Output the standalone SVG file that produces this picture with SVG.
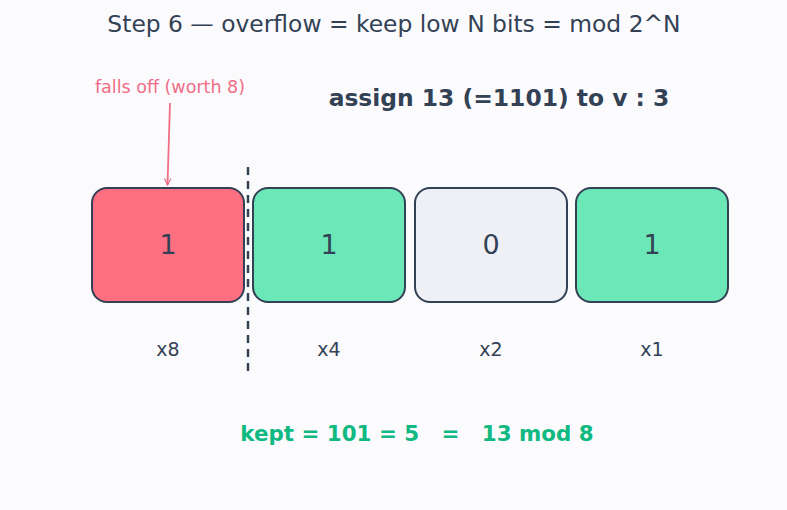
<svg xmlns="http://www.w3.org/2000/svg" width="787" height="510" viewBox="0 0 787 510">
<defs>
<style>
text{font-family:"DejaVu Sans","Liberation Sans",sans-serif;}
.box{stroke:#334155;stroke-width:2;}
.digit{font-size:27px;fill:#334155;text-anchor:middle;}
.lbl{font-size:19px;fill:#334155;text-anchor:middle;}
</style>
<marker id="ah" viewBox="0 0 10 10" refX="9" refY="5" markerWidth="8" markerHeight="8" orient="auto" markerUnits="userSpaceOnUse">
<path d="M1,1 L9,5 L1,9" fill="none" stroke="#f06e86" stroke-width="1.5"/>
</marker>
</defs>
<rect width="787" height="510" fill="#fbfbfe"/>
<text x="394" y="32" font-size="23.4" fill="#334155" text-anchor="middle">Step 6 — overflow = keep low N bits = mod 2^N</text>
<text x="499" y="106" font-size="23.4" font-weight="bold" fill="#334155" text-anchor="middle">assign 13 (=1101) to v : 3</text>
<g id="bit8">
<rect class="box" x="92" y="188" width="152" height="114" rx="15" fill="#ff6f82"/>
<text class="digit" x="168" y="254">1</text>
<text class="lbl" x="168" y="356">x8</text>
</g>
<g id="bit4">
<rect class="box" x="253" y="188" width="152" height="114" rx="15" fill="#6ce8b8"/>
<text class="digit" x="329" y="254">1</text>
<text class="lbl" x="329" y="356">x4</text>
</g>
<g id="bit2">
<rect class="box" x="415" y="188" width="152" height="114" rx="15" fill="#eef0f6"/>
<text class="digit" x="491" y="254">0</text>
<text class="lbl" x="491" y="356">x2</text>
</g>
<g id="bit1">
<rect class="box" x="576" y="188" width="152" height="114" rx="15" fill="#6ce8b8"/>
<text class="digit" x="652" y="254">1</text>
<text class="lbl" x="652" y="356">x1</text>
</g>
<g id="connectors">
<line x1="248" y1="167" x2="248" y2="375" stroke="#334155" stroke-width="2.5" stroke-dasharray="8,6"/>
<line x1="170" y1="103" x2="167.5" y2="185" stroke="#f06e86" stroke-width="1.8" marker-end="url(#ah)"/>
</g>
<text x="170" y="93" font-size="17.5" fill="#f06e86" text-anchor="middle">falls off (worth 8)</text>
<text x="417" y="441" font-size="21.4" font-weight="bold" fill="#10b981" text-anchor="middle" xml:space="preserve">kept = 101 = 5   =   13 mod 8</text>
</svg>
